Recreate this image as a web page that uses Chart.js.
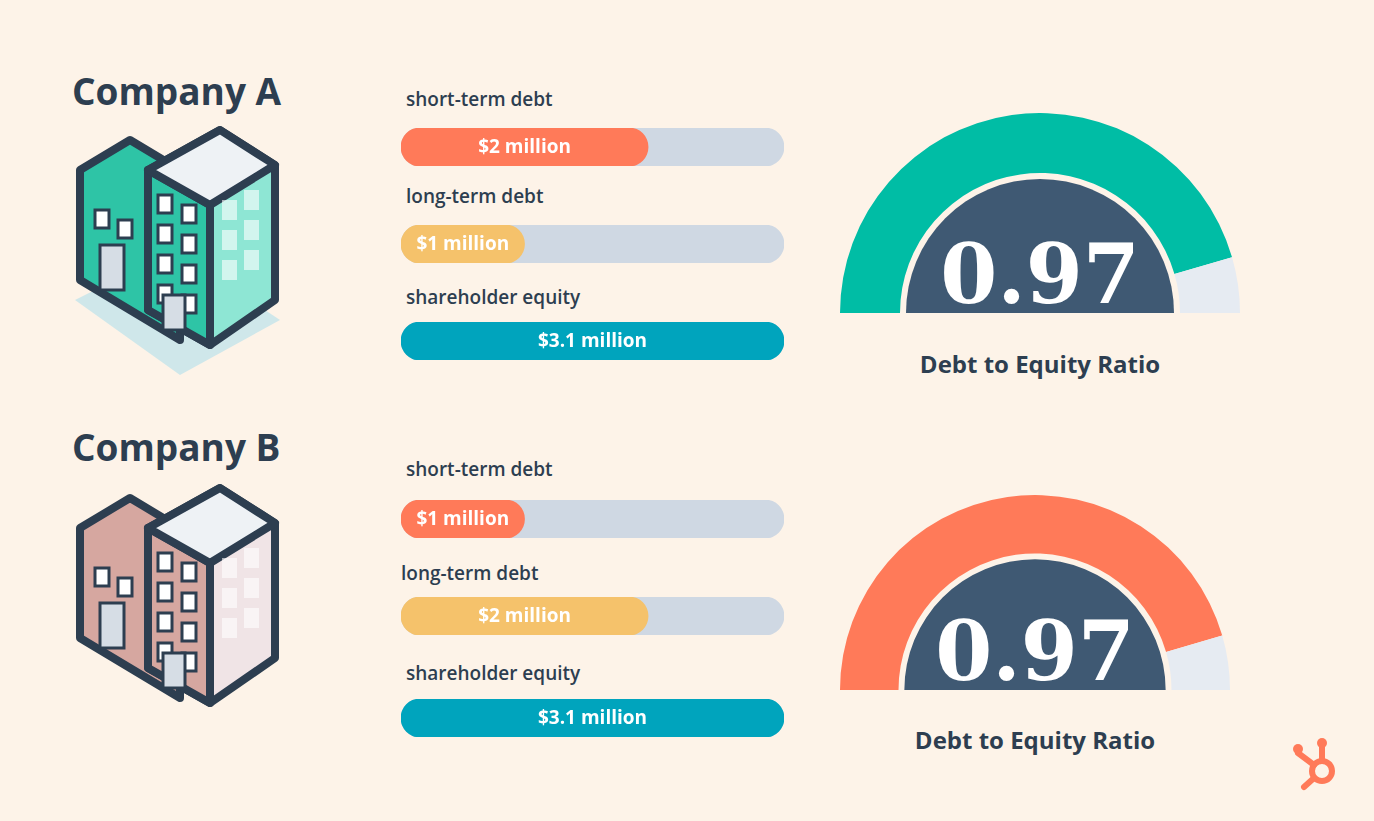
<!DOCTYPE html>
<html>
<head>
<meta charset="utf-8">
<script src="https://cdn.jsdelivr.net/npm/chart.js@4/dist/chart.umd.min.js"></script>
<style>
  body { margin: 0; background: #fdf3e8; font-family: "Open Sans", sans-serif; color: #2d3e50; }
  #stage { position: relative; width: 1374px; height: 821px; overflow: hidden; }
  .abs { position: absolute; }
  .title { font-size: 37px; font-weight: 700; }
  .lbl { font-size: 19px; font-weight: 600; }
  .ratio { font-size: 24px; font-weight: 700; width: 400px; text-align: center; }
</style>
</head>
<body>
<div id="stage">
  <div class="abs title" style="left:72px;top:65px">Company A</div>
  <div class="abs title" style="left:72px;top:421px">Company B</div>

  <svg class="abs" style="left:70px;top:120px" width="220" height="265" id="bldA"></svg>
  <svg class="abs" style="left:70px;top:478px" width="220" height="235" id="bldB"></svg>

  <div class="abs ratio" style="left:840px;top:347px">Debt to Equity Ratio</div>
  <div class="abs ratio" style="left:835px;top:723px">Debt to Equity Ratio</div>

  <svg class="abs" style="left:1292px;top:735px" width="52" height="58" viewBox="0 0 52 58">
    <g stroke="#ff7a59" stroke-width="6" fill="none" stroke-linecap="round">
      <circle cx="30" cy="36" r="10"/>
      <line x1="30" y1="26" x2="30" y2="12"/>
      <line x1="22" y1="30" x2="6" y2="18"/>
      <line x1="22" y1="43" x2="12" y2="52"/>
    </g>
    <circle cx="30" cy="8" r="5" fill="#ff7a59"/>
    <circle cx="6" cy="14" r="5" fill="#ff7a59"/>
  </svg>
</div>
<script>
const companies = ['Company A', 'Company B'];
const barLabels = ['short-term debt', 'long-term debt', 'shareholder equity'];
const valuesA = [2, 1, 3.1];
const valuesB = [1, 2, 3.1];
const valueText = v => '$' + v + ' million';
const ratios = [0.97, 0.97];
const scaleMax = 3.1;

const barColors = ['#ff7a59', '#f5c26b', '#00a4bd'];
const gaugeColors = ['#00bda5', '#ff7a59'];

const stage = document.getElementById('stage');
const barRows = [[147, 244, 341], [519, 616, 718]];
const labelRows = [[86, 183, 284], [456, 560, 660]];

const insideText = {
  id: 'insideText',
  afterDatasetsDraw(chart) {
    const meta = chart.getDatasetMeta(1);
    const bar = meta.data[0];
    const ctx = chart.ctx;
    ctx.save();
    ctx.fillStyle = '#fff';
    ctx.font = '700 19px "Open Sans"';
    ctx.textAlign = 'center';
    ctx.textBaseline = 'middle';
    ctx.fillText(chart.data.datasets[1].text, (bar.base + bar.x) / 2, bar.y + 1);
    ctx.restore();
  }
};

function makeBar(top, value, color) {
  const c = document.createElement('canvas');
  c.className = 'abs';
  c.style.cssText = `left:401px;top:${top - 19}px;width:383px;height:38px`;
  stage.appendChild(c);
  new Chart(c, {
    type: 'bar',
    data: {
      labels: [''],
      datasets: [
        { data: [scaleMax], backgroundColor: '#cfd8e3', order: 2 },
        { data: [value], backgroundColor: color, order: 1, text: valueText(value) }
      ]
    },
    options: {
      indexAxis: 'y', responsive: false, animation: false,
      maintainAspectRatio: false,
      datasets: { bar: { grouped: false, barPercentage: 1, categoryPercentage: 1, borderRadius: 19, borderSkipped: false } },
      scales: { x: { display: false, min: 0, max: scaleMax }, y: { display: false } },
      plugins: { legend: { display: false }, tooltip: { enabled: false } },
      layout: { padding: 0 }
    },
    plugins: [insideText]
  });
}

[valuesA, valuesB].forEach((vals, ci) => {
  vals.forEach((v, i) => {
    const l = document.createElement('div');
    l.className = 'abs lbl';
    l.style.left = (ci === 1 && i === 1 ? 401 : 406) + 'px';
    l.style.top = labelRows[ci][i] + 'px';
    l.textContent = barLabels[i];
    stage.appendChild(l);
    makeBar(barRows[ci][i], v, barColors[i]);
  });
});

const centerText = {
  id: 'centerText',
  afterDatasetsDraw(chart) {
    const arc = chart.getDatasetMeta(0).data[0];
    const ctx = chart.ctx;
    ctx.save();
    ctx.fillStyle = '#fff';
    ctx.font = '700 82px "DejaVu Serif", serif';
    ctx.textAlign = 'center';
    ctx.textBaseline = 'alphabetic';
    ctx.fillText(chart.options.plugins.centerText.text, arc.x, arc.y - 10);
    ctx.restore();
  }
};

function makeGauge(left, top, r, ratio, color) {
  const c = document.createElement('canvas');
  c.className = 'abs';
  c.style.cssText = `left:${left}px;top:${top}px;width:${2 * r}px;height:${r}px`;
  stage.appendChild(c);
  const filled = ratio * 100 - 6;
  new Chart(c, {
    type: 'doughnut',
    data: {
      datasets: [
        { data: [filled, 100 - filled], backgroundColor: [color, '#e6ebf2'], weight: 60 },
        { data: [1], backgroundColor: 'rgba(0,0,0,0)', weight: 6 },
        { data: [1], backgroundColor: '#3f5973', weight: 134 }
      ]
    },
    options: {
      responsive: false, animation: false, maintainAspectRatio: false,
      rotation: -90, circumference: 180, cutout: 0,
      borderWidth: 0,
      elements: { arc: { borderWidth: 0 } },
      layout: { padding: 0 },
      plugins: { legend: { display: false }, tooltip: { enabled: false }, centerText: { text: ratio.toFixed(2) } }
    },
    plugins: [centerText]
  });
}

makeGauge(840, 113, 200, ratios[0], gaugeColors[0]);
makeGauge(840, 495, 195, ratios[1], gaugeColors[1]);

// simple isometric building illustrations
function building(id, front, side, shadow) {
  const s = document.getElementById(id);
  const o = '#2d3e50';
  let h = '';
  if (shadow) h += `<polygon points="5,180 110,255 210,200 105,130" fill="${shadow}"/>`;
  h += `<polygon points="10,50 60,20 110,50 110,220 60,190 10,160" fill="${front}" stroke="${o}" stroke-width="8" stroke-linejoin="round"/>`;
  h += `<polygon points="78,50 150,10 205,45 205,180 140,225 78,190" fill="${side}" stroke="${o}" stroke-width="8" stroke-linejoin="round"/>`;
  h += `<polygon points="78,50 140,85 140,225 78,190" fill="${front}" stroke="${o}" stroke-width="8" stroke-linejoin="round"/>`;
  h += `<polygon points="78,50 150,10 205,45 140,85" fill="#eef2f5" stroke="${o}" stroke-width="8" stroke-linejoin="round"/>`;
  for (let r = 0; r < 4; r++) for (let k = 0; k < 2; k++)
    h += `<rect x="${88 + k * 24}" y="${75 + r * 30 + k * 10}" width="14" height="18" fill="#fff" stroke="${o}" stroke-width="3"/>`;
  for (let r = 0; r < 3; r++) for (let k = 0; k < 2; k++)
    h += `<rect x="${152 + k * 22}" y="${80 + r * 30 - k * 10}" width="15" height="20" fill="rgba(255,255,255,0.6)"/>`;
  h += `<rect x="25" y="90" width="14" height="18" fill="#fff" stroke="${o}" stroke-width="3"/>`;
  h += `<rect x="48" y="100" width="14" height="18" fill="#fff" stroke="${o}" stroke-width="3"/>`;
  h += `<rect x="30" y="125" width="24" height="45" fill="#d6dde5" stroke="${o}" stroke-width="3"/>`;
  h += `<rect x="93" y="175" width="22" height="35" fill="#d6dde5" stroke="${o}" stroke-width="3"/>`;
  s.innerHTML = h;
}
building('bldA', '#2ec4a6', '#8ee6d4', '#cfe7ea');
building('bldB', '#d6a7a0', '#f0e4e6', null);
</script>
</body>
</html>
